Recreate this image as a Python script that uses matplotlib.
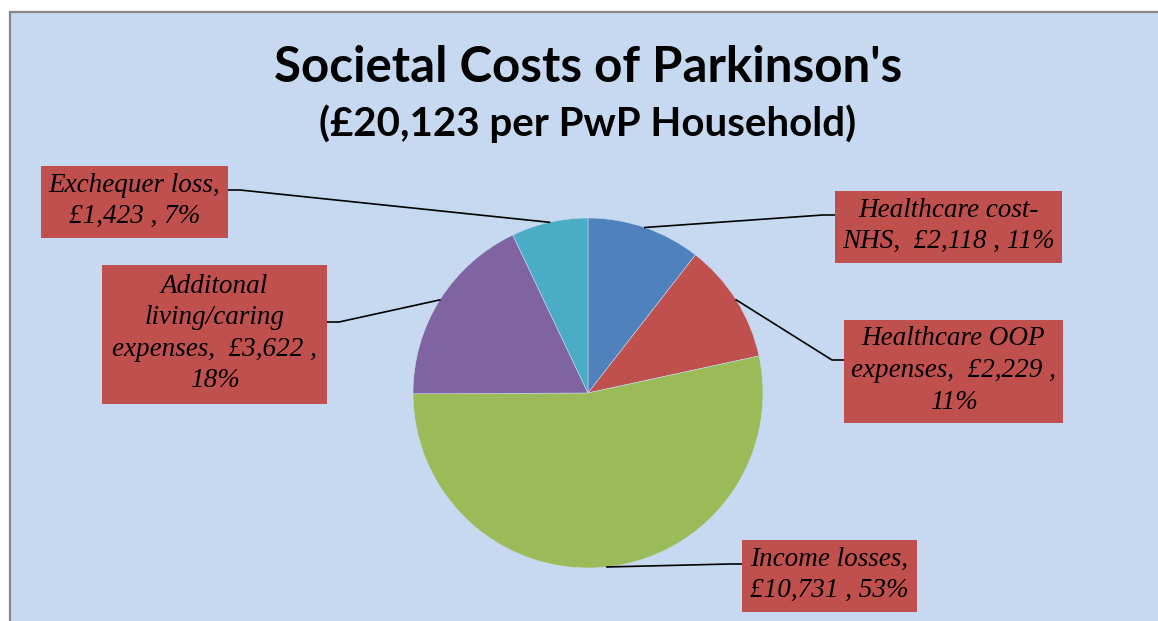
import matplotlib.pyplot as plt
import matplotlib.patches as mpatches
import numpy as np

# data
labels = ["Healthcare cost-\nNHS,  £2,118 , 11%",
          "Healthcare OOP\nexpenses,  £2,229 ,\n11%",
          "Income losses,\n£10,731 , 53%",
          "Additonal\nliving/caring\nexpenses,  £3,622 ,\n18%",
          "Exchequer loss,\n£1,423 , 7%"]
values = [2118, 2229, 10731, 3622, 1423]
colors = ['#4F81BD', '#C0504D', '#9BBB59', '#8064A2', '#4BACC6']

W, H = 1158, 621

# label boxes in pixel coords (x0, y0 top, x1, y1 bottom), elbow y
boxes = [(835, 191, 1062, 263), (844, 320, 1063, 423), (742, 540, 917, 612),
         (102, 265, 327, 404), (41, 166, 228, 238)]
elbow_y = [215, 360, 564, 322, 190]

fig = plt.figure(figsize=(W / 100, H / 100), dpi=100)
fig.patch.set_facecolor('white')
ax = fig.add_axes([0, 0, 1, 1])

cx, cy, r = 588, H - 393, 175
wedges, _ = ax.pie(values, colors=colors, startangle=90, counterclock=False,
                   center=(cx, cy), radius=r,
                   wedgeprops=dict(edgecolor='#c6d9f1', linewidth=0.4))
for w in wedges:
    w.set_zorder(3)

ax.set_xlim(0, W)
ax.set_ylim(0, H)
ax.set_aspect('equal')
ax.axis('off')

# chart area background
ax.add_patch(mpatches.Rectangle((10, -20), W + 40, H - 12 + 20, facecolor='#C6D9F1',
                                edgecolor='#868686', linewidth=1.6, zorder=0))

ax.text(588, H - 68, "Societal Costs of Parkinson's", ha='center', va='center',
        fontsize=35.5, fontweight='bold', family='Lato', zorder=5)
ax.text(588, H - 124, "(£20,123 per PwP Household)", ha='center', va='center',
        fontsize=29, fontweight='bold', family='Lato', zorder=5)

for w, lab, (x0, y0, x1, y1), ey in zip(wedges, labels, boxes, elbow_y):
    ang = np.deg2rad((w.theta1 + w.theta2) / 2)
    ax_, ay_ = cx + r * np.cos(ang), cy + r * np.sin(ang)
    left_side = (x0 + x1) / 2 < cx
    bx = x1 if left_side else x0
    ex = bx + 12 if left_side else bx - 12
    ax.plot([bx, ex, ax_], [H - ey, H - ey, ay_], color='black', lw=1.2, zorder=4)
    ax.add_patch(mpatches.Rectangle((x0, H - y1), x1 - x0, y1 - y0,
                                    facecolor='#C0504D', edgecolor='none', zorder=4))
    ax.text((x0 + x1) / 2, H - (y0 + y1) / 2 + 1, lab, ha='center', va='center',
            fontsize=19.5, style='italic', family='Liberation Serif',
            linespacing=1.35, zorder=5)

fig.savefig('out.png', dpi=100, facecolor='white')
